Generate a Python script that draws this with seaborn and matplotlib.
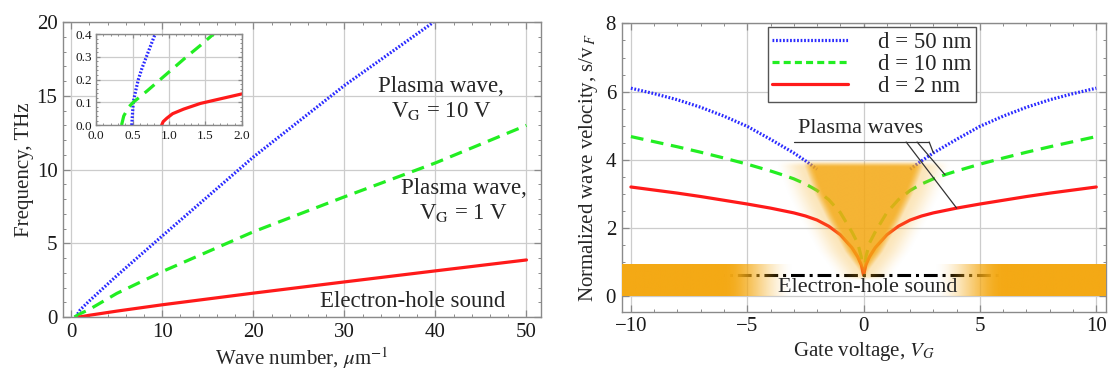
import numpy as np
import matplotlib
matplotlib.use('Agg')
import matplotlib.pyplot as plt
import seaborn as sns
from matplotlib.lines import Line2D
from matplotlib.ticker import MultipleLocator, FormatStrFormatter
from matplotlib.colors import to_rgb

# ---- left panel: frequency (THz) vs wave number (1/um)
k_vg10 = [0.49, 1, 2, 5, 10, 20, 30, 39.8]
f_vg10 = [0.0, 0.5, 1.1, 2.8, 5.5, 10.85, 15.7, 20.0]
k_vg1 = [0.35, 1, 2, 5, 10, 20, 30, 40, 50]
f_vg1 = [0.0, 0.23, 0.52, 1.6, 3.08, 5.78, 8.15, 10.45, 13.0]
k_eh = [0.9, 2, 5, 10, 20, 30, 40, 50]
f_eh = [0.0, 0.12, 0.4, 0.83, 1.62, 2.38, 3.13, 3.87]

# inset near the origin
k_in_vg10 = [0.49, 0.5, 0.51, 0.55, 0.58, 0.63, 0.69, 0.75, 0.81]
f_in_vg10 = [0.0, 0.05, 0.1, 0.16, 0.2, 0.25, 0.3, 0.35, 0.4]
k_in_vg1 = [0.35, 0.38, 0.45, 0.51, 0.7, 0.88, 1.06, 1.24, 1.43, 1.61]
f_in_vg1 = [0.0, 0.04, 0.08, 0.1, 0.15, 0.2, 0.25, 0.3, 0.35, 0.4]
k_in_eh = [0.9, 0.92, 0.97, 1.05, 1.2, 1.43, 1.7, 2.0]
f_in_eh = [0.0, 0.015, 0.03, 0.05, 0.07, 0.095, 0.115, 0.137]

# ---- right panel: normalized velocity vs gate voltage
gate_v = [-10, -9, -8, -7, -6, -5, -4, -3.5, -3, -2.5, -2, -1.5, -1, -0.5, -0.25, -0.1,
          0, 0.1, 0.25, 0.5, 1, 1.5, 2, 2.5, 3, 3.5, 4, 5, 6, 7, 8, 9, 10]
s_d10 = [4.68, 4.53, 4.38, 4.22, 4.05, 3.87, 3.67, 3.56, 3.44, 3.29, 3.1, 2.83, 2.45, 1.88, 1.55, 1.15,
         0.62, 1.15, 1.55, 1.88, 2.45, 2.83, 3.1, 3.29, 3.44, 3.56, 3.67, 3.87, 4.05, 4.22, 4.38, 4.53, 4.68]
s_d2 = [3.2, 3.11, 3.02, 2.92, 2.81, 2.7, 2.58, 2.51, 2.44, 2.35, 2.23, 2.05, 1.8, 1.42, 1.15, 0.92,
        0.62, 0.92, 1.15, 1.42, 1.8, 2.05, 2.23, 2.35, 2.44, 2.51, 2.58, 2.7, 2.81, 2.92, 3.02, 3.11, 3.2]
# d = 50 nm is hidden by the shaded plasma region for |V| < 2
gate_v50 = [2, 2.5, 3, 3.5, 4, 5, 6, 7, 8, 9, 10]
s_d50 = [3.72, 3.97, 4.2, 4.4, 4.6, 4.98, 5.28, 5.54, 5.76, 5.94, 6.1]
eh_v = [-10, 10]
eh_s = [0.62, 0.62]

BLUE = '#2a2aff'
GREEN = '#22ee22'
RED = '#ff1a1a'
ORANGE = '#f4a915'
dot = (0, (0.55, 0.55))
dash = (0, (4.0, 2.4))

sns.set_theme(style='white')
plt.rcParams['font.family'] = ['Liberation Serif', 'DejaVu Serif']
plt.rcParams['mathtext.fontset'] = 'stix'

fig = plt.figure(figsize=(11.1, 3.7), dpi=100)
ax1 = fig.add_axes([0.0568, 0.1432, 0.4306, 0.797])
ax2 = fig.add_axes([0.560, 0.1576, 0.436, 0.779])
axin = fig.add_axes([0.0865, 0.662, 0.1315, 0.246])


def frame(ax, size):
    for s in ax.spines.values():
        s.set_visible(True)
        s.set_color('#8a8a8a')
        s.set_linewidth(1.0)
    ax.tick_params(which='both', direction='in', top=True, right=True,
                   bottom=True, left=True, colors='#8a8a8a',
                   labelcolor='#1a1a1a', labelsize=size, pad=4)
    ax.tick_params(which='major', length=5, width=0.9)
    ax.tick_params(which='minor', length=2.5, width=0.7)
    ax.grid(True, which='major', color='#cccccc', lw=0.9)
    ax.set_axisbelow(True)


lw = 2.3
# left main panel
sns.lineplot(x=k_vg10, y=f_vg10, ax=ax1, color=BLUE, lw=lw, linestyle=dot,
             dash_capstyle='butt', legend=False)
sns.lineplot(x=k_vg1, y=f_vg1, ax=ax1, color=GREEN, lw=lw, linestyle=dash, legend=False)
sns.lineplot(x=k_eh, y=f_eh, ax=ax1, color=RED, lw=lw, legend=False)
ax1.set_xlim(-0.9, 51.6)
ax1.set_ylim(0, 20)
ax1.xaxis.set_major_locator(MultipleLocator(10))
ax1.xaxis.set_minor_locator(MultipleLocator(2))
ax1.yaxis.set_major_locator(MultipleLocator(5))
ax1.yaxis.set_minor_locator(MultipleLocator(1))
frame(ax1, 15)
ax1.set_xlabel(r'Wave number, $\mu$m$^{-1}$', fontsize=15, labelpad=3)
ax1.set_ylabel('Frequency, THz', fontsize=15, labelpad=2)
ax1.text(40.6, 14.8, 'Plasma wave,\n' + r'V$_\mathrm{G}$ = 10 V', fontsize=16.5,
         ha='center', va='center', multialignment='center', linespacing=1.2)
ax1.text(43.1, 7.86, 'Plasma wave,\n' + r'V$_\mathrm{G}$ = 1 V', fontsize=16.5,
         ha='center', va='center', multialignment='center', linespacing=1.2)
ax1.text(37.55, 1.05, 'Electron-hole sound', fontsize=16.5, ha='center', va='center')

# inset
sns.lineplot(x=k_in_vg10, y=f_in_vg10, ax=axin, color=BLUE, lw=lw, linestyle=dot,
             dash_capstyle='butt', legend=False)
sns.lineplot(x=k_in_vg1, y=f_in_vg1, ax=axin, color=GREEN, lw=lw, linestyle=dash, legend=False)
sns.lineplot(x=k_in_eh, y=f_in_eh, ax=axin, color=RED, lw=lw, legend=False)
axin.set_xlim(0, 2)
axin.set_ylim(0, 0.4)
axin.xaxis.set_major_locator(MultipleLocator(0.5))
axin.xaxis.set_minor_locator(MultipleLocator(0.1))
axin.yaxis.set_major_locator(MultipleLocator(0.1))
axin.yaxis.set_minor_locator(MultipleLocator(0.02))
axin.xaxis.set_major_formatter(FormatStrFormatter('%.1f'))
axin.yaxis.set_major_formatter(FormatStrFormatter('%.1f'))
frame(axin, 9.5)
axin.tick_params(axis='x', which='both', pad=3.5)
axin.tick_params(axis='y', which='both', pad=3)
axin.tick_params(which='major', length=3)
axin.tick_params(which='minor', length=1.5)
axin.set_xlabel('')
axin.set_ylabel('')
axin.patch.set_facecolor('white')

# right panel
sns.lineplot(x=gate_v50, y=s_d50, ax=ax2, color=BLUE, lw=lw, linestyle=dot,
             dash_capstyle='butt', legend=False)
sns.lineplot(x=[-v for v in gate_v50], y=s_d50, ax=ax2, color=BLUE, lw=lw, linestyle=dot,
             dash_capstyle='butt', legend=False)
sns.lineplot(x=gate_v, y=s_d10, ax=ax2, color=GREEN, lw=lw, linestyle=dash, legend=False)
sns.lineplot(x=gate_v, y=s_d2, ax=ax2, color=RED, lw=lw, legend=False)
sns.lineplot(x=eh_v, y=eh_s, ax=ax2, color='black', lw=2.2,
             linestyle=(0, (4.5, 1.6, 1.0, 1.6)), legend=False)

orange = np.array(to_rgb(ORANGE))
xmin, xmax = -10.4, 10.4


def smooth(t):
    t = np.clip(t, 0, 1)
    return t * t * (3 - 2 * t)


# sound band: orange at the edges, fading to white in the middle
bx = np.linspace(xmin, xmax, 800)
band = np.zeros((2, bx.size, 4))
band[..., :3] = orange
band[..., 3] = smooth((np.abs(bx) - 3.0) / 3.0)[None, :]
ax2.imshow(band, extent=[xmin, xmax, 0, 0.92], origin='lower', aspect='auto',
           interpolation='bilinear', zorder=3)

# plasma region: blurred V shape
gx = np.linspace(-4.5, 4.5, 500)
gy = np.linspace(0.3, 4.4, 400)
X, Y = np.meshgrid(gx, gy)
yb = [0.55, 0.8, 1.3, 2.3, 3.0, 4.0, 4.4]
wb = [0.0, 0.2, 0.75, 1.55, 2.05, 2.6, 2.7]
W = np.interp(Y, yb, wb)
D = np.abs(X) - W
core = smooth(0.5 - D / 0.7)
halo = 0.3 * smooth(1 - np.clip(D, 0, None) / 1.3)
top = smooth((4.0 - Y) / 0.22)
bot = smooth((Y - 0.45) / 0.15)
blob = np.zeros(X.shape + (4,))
blob[..., :3] = orange
blob[..., 3] = np.clip(np.maximum(0.87 * core, halo), 0, 1) * top * bot
ax2.imshow(blob, extent=[gx[0], gx[-1], gy[0], gy[-1]], origin='lower', aspect='auto',
           interpolation='bilinear', zorder=3)

ax2.set_xlim(xmin, xmax)
ax2.set_ylim(-0.46, 8)
ax2.xaxis.set_major_locator(MultipleLocator(5))
ax2.xaxis.set_minor_locator(MultipleLocator(1))
ax2.yaxis.set_major_locator(MultipleLocator(2))
ax2.yaxis.set_minor_locator(MultipleLocator(0.5))
frame(ax2, 15)
ax2.set_xlabel(r'Gate voltage, $V_G$', fontsize=15, labelpad=3)
ax2.set_ylabel(r'Normalized wave velocity, s/v$\,_F$', fontsize=15, labelpad=4)

ax2.text(0.17, 0.26, 'Electron-hole sound', fontsize=16, ha='center', va='center', zorder=5)
ax2.text(-0.14, 4.93, 'Plasma waves', fontsize=16, ha='center', va='center', zorder=5)
ax2.plot([-2.98, 2.82], [4.52, 4.52], color='#333333', lw=0.9, zorder=5)
i_red = gate_v.index(4)
i_grn = gate_v.index(3.5)
i_blu = gate_v50.index(3)
for x0, (x1, y1) in [(1.83, (gate_v[i_red], s_d2[i_red])),
                     (2.3, (gate_v[i_grn], s_d10[i_grn])),
                     (2.82, (gate_v50[i_blu], s_d50[i_blu]))]:
    ax2.plot([x0, x1], [4.52, y1], color='#333333', lw=0.9, zorder=5)

handles = [Line2D([], [], color=BLUE, lw=lw, linestyle=dot, dash_capstyle='butt'),
           Line2D([], [], color=GREEN, lw=lw, linestyle=(0, (2.2, 1.3))),
           Line2D([], [], color=RED, lw=lw)]
leg = ax2.legend(handles, ['d = 50 nm', 'd = 10 nm', 'd = 2 nm'], loc='upper left',
                 bbox_to_anchor=(0.302, 0.987), fontsize=16.5, frameon=True, fancybox=False,
                 edgecolor='#555555', framealpha=1, handlelength=3.3, borderpad=0.2,
                 labelspacing=0.05, handletextpad=1.3, borderaxespad=0)
leg.get_frame().set_linewidth(1.0)
leg.set_zorder(6)

fig.savefig('out.png', dpi=100)
